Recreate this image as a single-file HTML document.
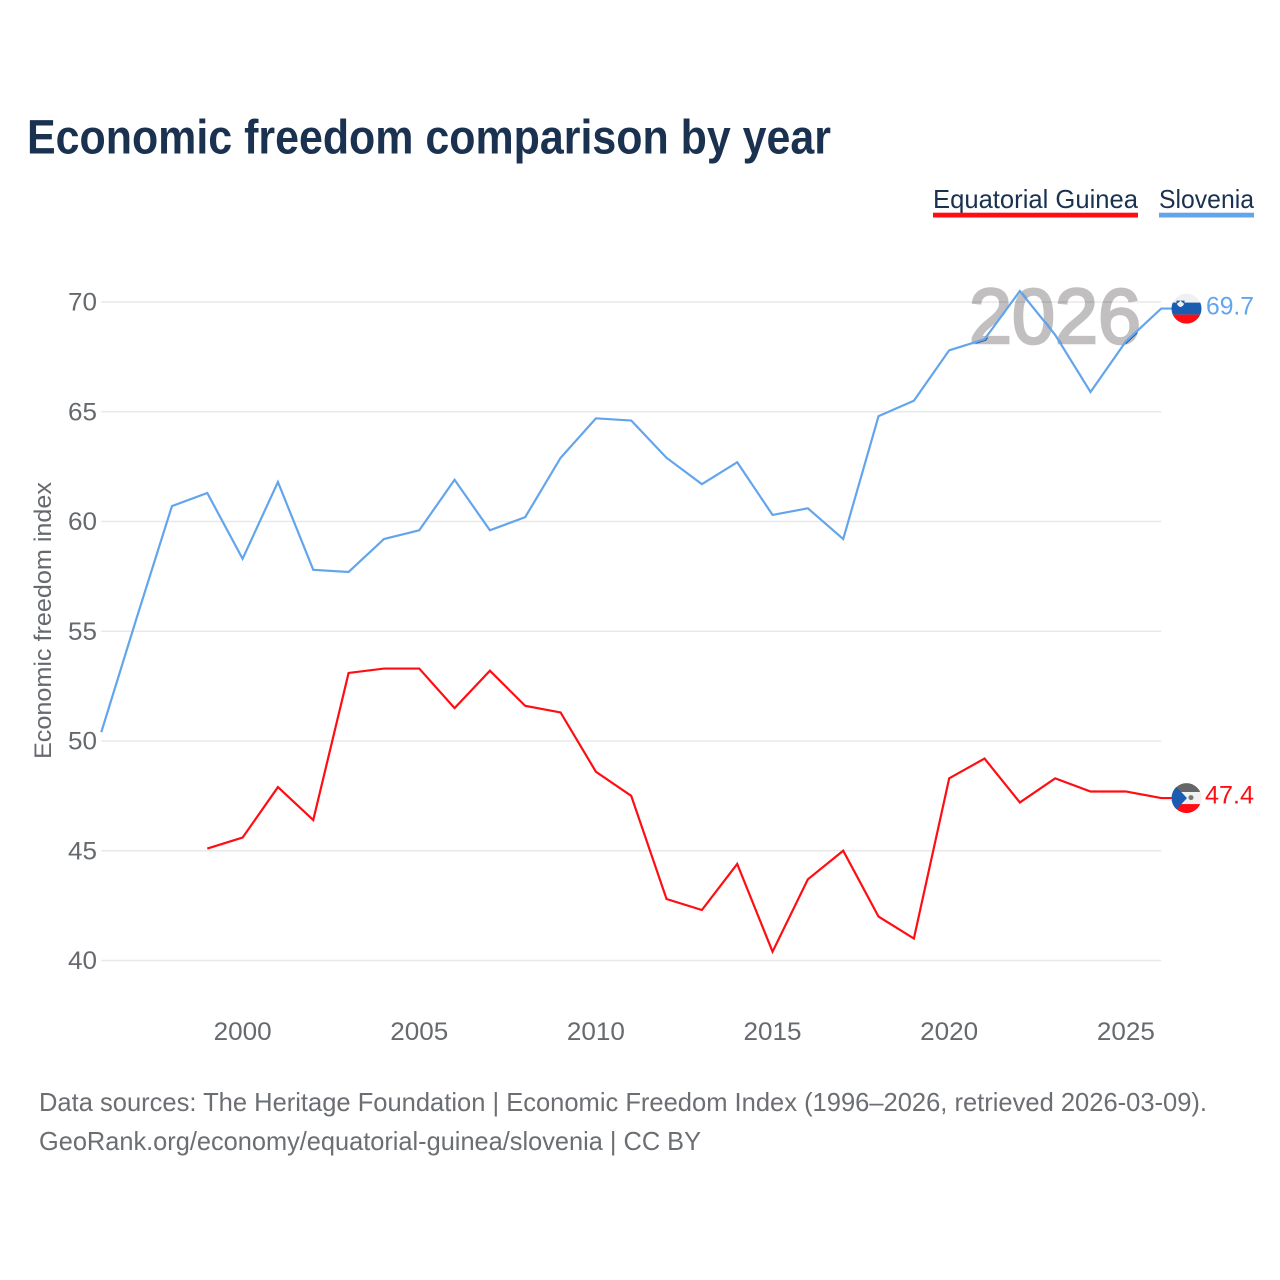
<!DOCTYPE html>
<html lang="en">
<head>
<meta charset="utf-8">
<title>Economic freedom comparison by year</title>
<style>
html,body{margin:0;padding:0;background:#fff;}
svg{display:block;}
text{font-family:"Liberation Sans",sans-serif;}
</style>
</head>
<body>
<svg id="chart" xmlns="http://www.w3.org/2000/svg" width="1280" height="1280" viewBox="0 0 1280 1280">
  <defs>
    <clipPath id="clip-year">
      <text x="969" y="343" font-size="78" textLength="172" lengthAdjust="spacingAndGlyphs">2026</text>
    </clipPath>
  </defs>
  <rect x="0" y="0" width="1280" height="1280" fill="#ffffff"/>
  <text x="27" y="153.5" font-size="48" font-weight="bold" fill="#1a3250" textLength="804" lengthAdjust="spacingAndGlyphs">Economic freedom comparison by year</text>

  <g id="grid"></g>
  <g id="yticks"></g>
  <g id="xticks"></g>
  <text transform="translate(51 759) rotate(-90)" x="0" y="0" font-size="24" fill="#666a6e" textLength="277" lengthAdjust="spacingAndGlyphs">Economic freedom index</text>

  <text x="969" y="343" font-size="78" fill="#c1bfc0" stroke="#c1bfc0" stroke-width="2.6" textLength="172" lengthAdjust="spacingAndGlyphs" style="mix-blend-mode:multiply">2026</text>

  <g id="series"></g>
  <g id="flags"></g>

  <g>
    <g>
      <text x="933" y="208" font-size="26" fill="#1a3250" textLength="205" lengthAdjust="spacingAndGlyphs">Equatorial Guinea</text>
      <rect x="933" y="212.7" width="205" height="4.8" fill="#ff0d12"/>
    </g>
    <g>
      <text x="1159" y="208" font-size="26" fill="#1a3250" textLength="95" lengthAdjust="spacingAndGlyphs">Slovenia</text>
      <rect x="1159" y="212.7" width="95" height="4.8" fill="#63a5ec"/>
    </g>
  </g>

  <text x="39" y="1111" font-size="26" fill="#6b6e72" textLength="1168" lengthAdjust="spacingAndGlyphs">Data sources: The Heritage Foundation | Economic Freedom Index (1996–2026, retrieved 2026-03-09).</text>
  <text x="39" y="1150" font-size="26" fill="#6b6e72" textLength="662" lengthAdjust="spacingAndGlyphs">GeoRank.org/economy/equatorial-guinea/slovenia | CC BY</text>
</svg>
<script>
const years = [1996,1997,1998,1999,2000,2001,2002,2003,2004,2005,2006,2007,2008,2009,2010,2011,2012,2013,2014,2015,2016,2017,2018,2019,2020,2021,2022,2023,2024,2025,2026];
const sloveniaValues = [50.4,55.6,60.7,61.3,58.3,61.8,57.8,57.7,59.2,59.6,61.9,59.6,60.2,62.9,64.7,64.6,62.9,61.7,62.7,60.3,60.6,59.2,64.8,65.5,67.8,68.3,70.5,68.5,65.9,68.2,69.7];
const guineaValues = [null,null,null,45.1,45.6,47.9,46.4,53.1,53.3,53.3,51.5,53.2,51.6,51.3,48.6,47.5,42.8,42.3,44.4,40.4,43.7,45.0,42.0,41.0,48.3,49.2,47.2,48.3,47.7,47.7,47.4];
const yTickLabels = [40,45,50,55,60,65,70];
const xTickLabels = [2000,2005,2010,2015,2020,2025];

const NS = 'http://www.w3.org/2000/svg';
function xScale(year){ return 242.6 + (year - 2000) * 35.33; }
function yScale(value){ return 960.5 - (value - 40) * 21.95; }
function make(tag, parent){
  const el = document.createElementNS(NS, tag);
  parent.appendChild(el);
  return el;
}

const gridGroup = document.getElementById('grid');
const yGroup = document.getElementById('yticks');
const xGroup = document.getElementById('xticks');
const seriesGroup = document.getElementById('series');
const flagGroup = document.getElementById('flags');

yTickLabels.forEach(function(tick){
  const line = make('line', gridGroup);
  
  
  line.setAttribute('x1', xScale(1996));
  line.setAttribute('x2', xScale(2026));
  line.setAttribute('y1', yScale(tick));
  line.setAttribute('y2', yScale(tick));
  line.setAttribute('stroke', '#e8e8e8');
  line.setAttribute('stroke-width', '1.5');
  const label = make('text', yGroup);
  
  
  label.setAttribute('x', 68);
  label.setAttribute('y', yScale(tick) + 8.5);
  label.setAttribute('font-size', '25');
  label.setAttribute('fill', '#666a6e');
  label.setAttribute('textLength', '29');
  label.setAttribute('lengthAdjust', 'spacingAndGlyphs');
  label.textContent = tick;
});

xTickLabels.forEach(function(tick){
  const label = make('text', xGroup);
  
  
  label.setAttribute('x', xScale(tick));
  label.setAttribute('y', 1040);
  label.setAttribute('font-size', '25');
  label.setAttribute('fill', '#666a6e');
  label.setAttribute('text-anchor', 'middle');
  label.setAttribute('textLength', '58');
  label.setAttribute('lengthAdjust', 'spacingAndGlyphs');
  label.textContent = tick;
});

function linePoints(values){
  const pts = [];
  values.forEach(function(v, i){
    if (v !== null) pts.push(xScale(years[i]).toFixed(2) + ',' + yScale(v).toFixed(2));
  });
  const last = values[values.length - 1];
  pts.push('1172,' + yScale(last).toFixed(2));
  return pts.join(' ');
}

const guineaLine = make('polyline', seriesGroup);


guineaLine.setAttribute('points', linePoints(guineaValues));
guineaLine.setAttribute('fill', 'none');
guineaLine.setAttribute('stroke', '#ff0d12');
guineaLine.setAttribute('stroke-width', '2.2');

const sloveniaShade = make('polyline', seriesGroup);


sloveniaShade.setAttribute('points', linePoints(sloveniaValues));
sloveniaShade.setAttribute('fill', 'none');
sloveniaShade.setAttribute('stroke', '#1a4f9a');
sloveniaShade.setAttribute('stroke-width', '2');
sloveniaShade.setAttribute('transform', 'translate(0.8 0.6)');
sloveniaShade.setAttribute('clip-path', 'url(#clip-year)');

const sloveniaLine = make('polyline', seriesGroup);


sloveniaLine.setAttribute('points', linePoints(sloveniaValues));
sloveniaLine.setAttribute('fill', 'none');
sloveniaLine.setAttribute('stroke', '#63a5ec');
sloveniaLine.setAttribute('stroke-width', '2.2');

/* Flags and end labels follow the last value of each series */
const sloveniaEnd = yScale(sloveniaValues[sloveniaValues.length - 1]);
const guineaEnd = yScale(guineaValues[guineaValues.length - 1]);

function addStripe(parent, x, y, w, h, fill){
  const r = make('rect', parent);
  r.setAttribute('x', x);
  r.setAttribute('y', y);
  r.setAttribute('width', w);
  r.setAttribute('height', h);
  r.setAttribute('fill', fill);
  return r;
}
function addClip(id, cy){
  const clip = make('clipPath', flagGroup);
  clip.setAttribute('id', id);
  const c = make('circle', clip);
  c.setAttribute('cx', 1186.5);
  c.setAttribute('cy', cy);
  c.setAttribute('r', 15);
}

addClip('clip-si', sloveniaEnd);
const siFlag = make('g', flagGroup);


siFlag.setAttribute('clip-path', 'url(#clip-si)');
addStripe(siFlag, 1171, sloveniaEnd - 16, 32, 10, '#f0f0f0');
addStripe(siFlag, 1171, sloveniaEnd - 6, 32, 12, '#1a5cb0');
addStripe(siFlag, 1171, sloveniaEnd + 6, 32, 11, '#ff0d12');
const siArmsBack = make('path', siFlag);


siArmsBack.setAttribute('transform', 'translate(1180.5 ' + (sloveniaEnd - 5) + ')');
siArmsBack.setAttribute('d', 'M-4 -3 H4 V1 Q3 3.5 0 4.5 Q-3 3.5 -4 1 Z');
siArmsBack.setAttribute('fill', '#1a5cb0');
const siArms = make('path', siFlag);


siArms.setAttribute('transform', 'translate(1180.5 ' + (sloveniaEnd - 5) + ')');
siArms.setAttribute('d', 'M-3.5 0 L-1.5 -1.5 L0 -3 L1.5 -1.5 L3.5 0 Q3 2.5 0 3.5 Q-3 2.5 -3.5 0 Z');
siArms.setAttribute('fill', '#f0f0f0');

addClip('clip-gq', guineaEnd);
const gqFlag = make('g', flagGroup);


gqFlag.setAttribute('clip-path', 'url(#clip-gq)');
addStripe(gqFlag, 1171, guineaEnd - 16, 32, 10, '#666666');
addStripe(gqFlag, 1171, guineaEnd - 6, 32, 12, '#f0f0f0');
addStripe(gqFlag, 1171, guineaEnd + 6, 32, 11, '#ff0d12');
const gqHoist = make('polygon', gqFlag);


gqHoist.setAttribute('points', '1171,' + (guineaEnd - 17) + ' 1187,' + guineaEnd + ' 1171,' + (guineaEnd + 17));
gqHoist.setAttribute('fill', '#1a5cb0');
const gqArms = make('circle', gqFlag);


gqArms.setAttribute('cx', 1191);
gqArms.setAttribute('cy', guineaEnd - 0.5);
gqArms.setAttribute('r', 2.5);
gqArms.setAttribute('fill', '#777777');

const siLabel = make('text', flagGroup);


siLabel.setAttribute('x', 1206);
siLabel.setAttribute('y', sloveniaEnd + 6);
siLabel.setAttribute('font-size', '25');
siLabel.setAttribute('fill', '#63a5ec');
siLabel.setAttribute('textLength', '48');
siLabel.setAttribute('lengthAdjust', 'spacingAndGlyphs');
siLabel.textContent = sloveniaValues[sloveniaValues.length - 1].toFixed(1);

const gqLabel = make('text', flagGroup);


gqLabel.setAttribute('x', 1205);
gqLabel.setAttribute('y', guineaEnd + 5.5);
gqLabel.setAttribute('font-size', '25');
gqLabel.setAttribute('fill', '#ff0d12');
gqLabel.setAttribute('textLength', '49');
gqLabel.setAttribute('lengthAdjust', 'spacingAndGlyphs');
gqLabel.textContent = guineaValues[guineaValues.length - 1].toFixed(1);
</script>
</body>
</html>
